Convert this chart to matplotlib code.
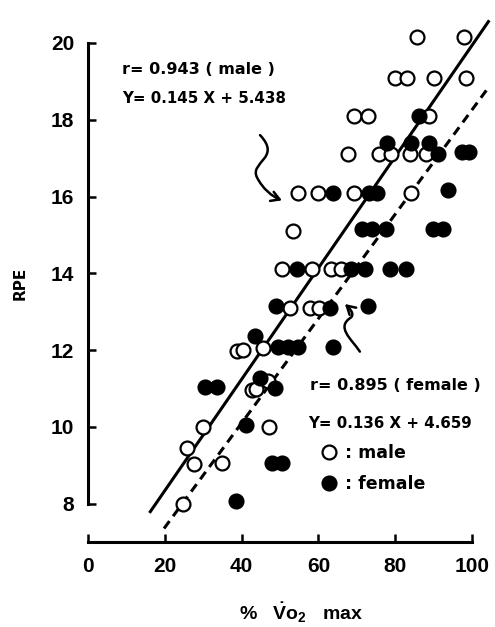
import matplotlib
matplotlib.use("Agg")
from matplotlib import pyplot as plt
from matplotlib.path import Path
from matplotlib.patches import FancyArrowPatch
from matplotlib.lines import Line2D
import numpy as np

plt.rcParams['font.family'] = ['Liberation Sans', 'DejaVu Sans']
plt.rcParams['font.weight'] = 'bold'
plt.rcParams['mathtext.fontset'] = 'custom'
plt.rcParams['mathtext.rm'] = 'Liberation Sans:bold'
plt.rcParams['mathtext.bf'] = 'Liberation Sans:bold'

# %VO2max vs RPE
male_x = [85.8, 98.0,
          79.9, 83.2, 90.2, 98.4,
          69.4, 73.0, 88.9,
          67.6, 75.8, 78.9, 83.9, 88.0,
          54.8, 59.9, 69.3, 84.1,
          53.3,
          50.6, 58.3, 63.4, 65.9,
          52.6, 57.7, 60.2,
          38.8, 40.4, 45.7,
          42.7, 43.7, 46.8,
          30.0, 47.2,
          25.7, 27.6, 34.8,
          24.7]
male_y = [20.15, 20.15,
          19.1, 19.1, 19.1, 19.1,
          18.1, 18.1, 18.1,
          17.1, 17.1, 17.1, 17.1, 17.1,
          16.1, 16.1, 16.1, 16.1,
          15.1,
          14.1, 14.1, 14.1, 14.1,
          13.1, 13.1, 13.1,
          11.98, 12.0, 12.05,
          10.96, 10.98, 11.2,
          10.0, 10.0,
          9.45, 9.04, 9.05,
          8.0]

female_x = [86.2,
            77.8, 84.0, 88.9,
            91.2, 97.3, 99.2,
            63.7, 73.2, 75.2, 93.8,
            71.3, 73.9, 77.6, 89.9, 92.4,
            54.3, 68.4, 72.1, 78.7, 82.8,
            49.0, 63.0, 73.0,
            43.5, 49.6, 52.0, 54.8, 63.9,
            30.5, 33.5, 44.8, 48.8,
            41.1,
            47.8, 50.4,
            38.5]
female_y = [18.1,
            17.4, 17.4, 17.4,
            17.12, 17.15, 17.15,
            16.1, 16.1, 16.1, 16.17,
            15.15, 15.15, 15.15, 15.15, 15.15,
            14.1, 14.1, 14.1, 14.1, 14.1,
            13.15, 13.1, 13.15,
            12.37, 12.07, 12.07, 12.07, 12.09,
            11.05, 11.05, 11.28, 11.0,
            10.05,
            9.07, 9.07,
            8.08]

# regression lines given on the chart
male_fit = (0.145, 5.438)
female_fit = (0.136, 4.659)
male_range = [16.0, 104.5]
female_range = [19.8, 104.5]

x_ticks = [0, 20, 40, 60, 80, 100]
y_ticks = [8, 10, 12, 14, 16, 18, 20]

fig = plt.figure(figsize=(4.95, 6.27), dpi=100)
ax = fig.add_axes([88 / 495, 85 / 627, 384 / 495, 499 / 627])
ax.set_xlim(0, 100)
ax.set_ylim(7, 20)

xm = np.array(male_range)
ax.plot(xm, male_fit[0] * xm + male_fit[1], color='black', lw=2.2,
        solid_capstyle='butt', clip_on=False, zorder=1)
xf = np.array(female_range)
ax.plot(xf, female_fit[0] * xf + female_fit[1], color='black', lw=2.2,
        dashes=(3, 2), dash_capstyle='butt', clip_on=False, zorder=1)

ax.plot(male_x, male_y, 'o', ms=10, mfc='white', mec='black', mew=1.6,
        clip_on=False, zorder=2)
ax.plot(female_x, female_y, 'o', ms=10, mfc='black', mec='black', mew=1.6,
        clip_on=False, zorder=3)

# axes styling
for s in ['top', 'right']:
    ax.spines[s].set_visible(False)
ax.spines['left'].set_bounds(8, 20)
ax.spines['bottom'].set_bounds(0, 100)
ax.spines['left'].set_linewidth(2.2)
ax.spines['bottom'].set_linewidth(2.2)
ax.set_xticks(x_ticks)
ax.set_yticks(y_ticks)
ax.tick_params(direction='in', length=6, width=1.8, labelsize=15)
ax.tick_params(axis='x', pad=11)
ax.tick_params(axis='y', pad=10)

fig.text(20 / 495, 1 - 283 / 627, 'RPE', rotation=90, ha='center',
         va='center', fontsize=11, fontweight='bold', family='DejaVu Sans')
fig.text(301 / 495, 1 - 613 / 627, r'%   $\dot{\mathrm{V}}\mathrm{o}_2$   max',
         ha='center', va='center', fontsize=14, fontweight='bold')

# annotations
ann = dict(fontsize=11.5, va='center', family='DejaVu Sans', fontweight='bold')
eq = dict(ann, fontsize=10.8)
ax.text(8.9, 19.3, 'r= 0.943 ( male )', **ann)
ax.text(8.9, 18.55, 'Y= 0.145 X + 5.438', **eq)
ax.text(57.8, 11.07, 'r= 0.895 ( female )', **ann)
ax.text(57.3, 10.1, 'Y= 0.136 X + 4.659', **eq)

# curly arrows
p1 = Path([(44.8, 17.6), (50.5, 17.0), (42.0, 16.9), (44.0, 16.5),
           (45.5, 16.2), (48.0, 16.0), (50.5, 15.9)],
          [Path.MOVETO, Path.CURVE4, Path.CURVE4, Path.CURVE4,
           Path.CURVE4, Path.CURVE4, Path.CURVE4])
ax.add_patch(FancyArrowPatch(path=p1, arrowstyle='->,head_length=6,head_width=3.5',
                             lw=1.8, color='black', transform=ax.transData,
                             clip_on=False))
p2 = Path([(70.8, 11.96), (68.5, 12.3), (64.5, 12.6), (68.5, 12.85),
           (69.5, 12.95), (68.0, 13.1), (66.9, 13.2)],
          [Path.MOVETO, Path.CURVE4, Path.CURVE4, Path.CURVE4,
           Path.CURVE4, Path.CURVE4, Path.CURVE4])
ax.add_patch(FancyArrowPatch(path=p2, arrowstyle='->,head_length=6,head_width=3.5',
                             lw=1.8, color='black', transform=ax.transData,
                             clip_on=False))

handles = [Line2D([], [], ls='none', marker='o', ms=10, mfc='white', mec='black', mew=1.6),
           Line2D([], [], ls='none', marker='o', ms=10, mfc='black', mec='black', mew=1.6)]
leg = ax.legend(handles, [': male', ': female'], loc='upper left',
                bbox_to_anchor=(0.604, 0.197), frameon=False,
                prop={'family': 'DejaVu Sans', 'weight': 'bold', 'size': 12.5},
                handlelength=1.0, handletextpad=0.45, labelspacing=0.75,
                borderpad=0, borderaxespad=0)

fig.savefig('out.png', dpi=100)
